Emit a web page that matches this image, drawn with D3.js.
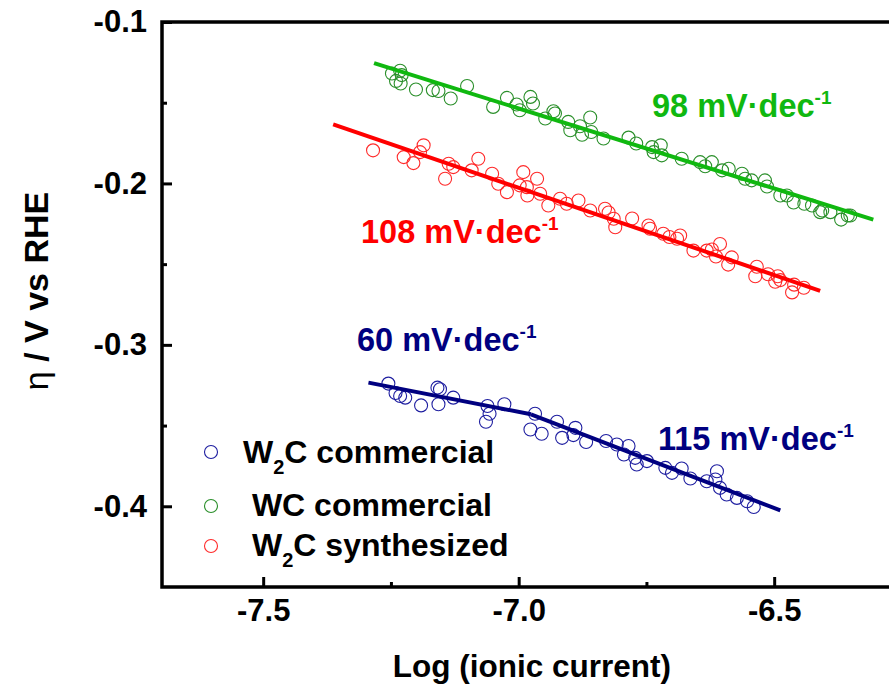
<!DOCTYPE html>
<html>
<head>
<meta charset="utf-8">
<script src="https://cdn.jsdelivr.net/npm/d3@7"></script>
<style>
  body { margin: 0; background: #fff; }
  text { font-family: "Liberation Sans", Arial, sans-serif; font-weight: bold; }
</style>
</head>
<body>
<div id="chart"></div>
<script>
// measured points, x = log(ionic current), y = overpotential (V vs RHE)
const wcX = [-7.248, -7.240, -7.232, -7.231, -7.229, -7.201, -7.168, -7.157, -7.133, -7.101,
  -7.050, -7.023, -7.004, -6.998, -6.977, -6.972, -6.948, -6.932, -6.929, -6.903,
  -6.899, -6.880, -6.876, -6.860, -6.858, -6.834, -6.785, -6.770, -6.739, -6.736,
  -6.722, -6.720, -6.681, -6.645, -6.635, -6.622, -6.602, -6.589, -6.563, -6.557,
  -6.544, -6.518, -6.514, -6.488, -6.475, -6.462, -6.441, -6.426, -6.410, -6.406,
  -6.390, -6.369, -6.356, -6.351];
const wcY = [-0.1319, -0.1365, -0.1302, -0.1381, -0.1329, -0.1418, -0.1422, -0.1427, -0.1474, -0.1396,
  -0.1526, -0.1470, -0.1511, -0.1547, -0.1464, -0.1505, -0.1598, -0.1553, -0.1567, -0.1619,
  -0.1671, -0.1646, -0.1698, -0.1592, -0.1681, -0.1722, -0.1716, -0.1753, -0.1775, -0.1806,
  -0.1764, -0.1826, -0.1847, -0.1868, -0.1894, -0.1868, -0.1919, -0.1909, -0.1940, -0.1971,
  -0.1981, -0.1981, -0.2019, -0.2075, -0.2075, -0.2118, -0.2126, -0.2137, -0.2178, -0.2168,
  -0.2178, -0.2224, -0.2199, -0.2199];

const synX = [-7.285, -7.225, -7.206, -7.193, -7.186, -7.144, -7.137, -7.128, -7.092, -7.079,
  -7.052, -7.040, -7.023, -6.998, -6.991, -6.984, -6.983, -6.964, -6.958, -6.942,
  -6.919, -6.906, -6.883, -6.860, -6.831, -6.824, -6.814, -6.811, -6.778, -6.746,
  -6.743, -6.717, -6.705, -6.690, -6.684, -6.658, -6.632, -6.622, -6.614, -6.606,
  -6.590, -6.583, -6.534, -6.537, -6.512, -6.498, -6.493, -6.488, -6.465, -6.461, -6.442];
const synY = [-0.1795, -0.1837, -0.1874, -0.1806, -0.1764, -0.1971, -0.1878, -0.1899, -0.1919, -0.1847,
  -0.1940, -0.2002, -0.2054, -0.2012, -0.1930, -0.2023, -0.2075, -0.1971, -0.2064, -0.2137,
  -0.2095, -0.2126, -0.2106, -0.2168, -0.2157, -0.2180, -0.2219, -0.2271, -0.2217, -0.2261,
  -0.2281, -0.2312, -0.2332, -0.2343, -0.2323, -0.2416, -0.2416, -0.2409, -0.2453, -0.2375,
  -0.2503, -0.2458, -0.2516, -0.2575, -0.2563, -0.2609, -0.2575, -0.2599, -0.2675, -0.2627, -0.2646];

const w2cX = [-7.255, -7.241, -7.232, -7.222, -7.191, -7.159, -7.154, -7.157, -7.128, -7.061,
  -7.057, -7.064, -7.028, -6.968, -6.977, -6.955, -6.925, -6.915, -6.889, -6.893,
  -6.868, -6.829, -6.808, -6.785, -6.794, -6.772, -6.769, -6.749, -6.713, -6.700,
  -6.681, -6.664, -6.632, -6.612, -6.615, -6.606, -6.593, -6.573, -6.553, -6.540];
const w2cY = [-0.3240, -0.3298, -0.3317, -0.3327, -0.3375, -0.3265, -0.3275, -0.3368, -0.3327, -0.3379,
  -0.3427, -0.3476, -0.3368, -0.3427, -0.3524, -0.3551, -0.3476, -0.3576, -0.3514, -0.3559,
  -0.3602, -0.3596, -0.3617, -0.3627, -0.3679, -0.3700, -0.3741, -0.3720, -0.3762, -0.3793,
  -0.3766, -0.3828, -0.3845, -0.3783, -0.3834, -0.3886, -0.3927, -0.3948, -0.3969, -0.4004];

// Tafel fit lines (end points)
const wcFit = [[-7.283, -0.1255], [-6.306, -0.2224]];
const synFit = [[-7.363, -0.1634], [-6.410, -0.2665]];
const w2cFitLow = [[-7.294, -0.3234], [-6.976, -0.3430]];
const w2cFitHigh = [[-6.976, -0.3430], [-6.488, -0.4025]];

const xMajor = [-7.5, -7.0, -6.5];
const xMinor = [-7.25, -6.75];
const yMajor = [-0.1, -0.2, -0.3, -0.4];
const yMinor = [-0.15, -0.25, -0.35];

const W = 889, H = 685;
const x = d3.scaleLinear().domain([-7.698, -6.25]).range([162, 162 + 1.448 * 511]);
const y = d3.scaleLinear().domain([-0.45, -0.1]).range([587, 22]);

const svg = d3.select("#chart").append("svg")
  .attr("width", W).attr("height", H);

const navy = "#000080", navyPt = "#1e1ea0";
const red = "#ff0000", redPt = "#ff2a2a";
const green = "#10b810", greenPt = "#2a8f2a";

// axes
svg.append("g").attr("transform", `translate(0,${y(-0.45)})`)
  .call(d3.axisBottom(x).tickValues(xMajor).tickSize(-10).tickPadding(12)
    .tickFormat(d => d.toFixed(1)));
svg.append("g").attr("transform", `translate(0,${y(-0.45)})`)
  .call(d3.axisBottom(x).tickValues(xMinor).tickSize(-5).tickFormat(""));
svg.append("g").attr("transform", `translate(${x(-7.698)},0)`)
  .call(d3.axisLeft(y).tickValues(yMajor).tickSize(-10).tickPadding(15)
    .tickFormat(d => d.toFixed(1)));
svg.append("g").attr("transform", `translate(${x(-7.698)},0)`)
  .call(d3.axisLeft(y).tickValues(yMinor).tickSize(-5).tickFormat(""));

svg.selectAll(".domain").remove();
svg.selectAll(".tick line").attr("stroke", "#000").attr("stroke-width", 3);
svg.selectAll(".tick text").attr("fill", "#000").style("font-size", "31px")
  .style("font-family", "'Liberation Sans', Arial, sans-serif").style("font-weight", "bold");

// frame
svg.append("rect")
  .attr("x", x(-7.698)).attr("y", y(-0.1))
  .attr("width", x(-6.25) - x(-7.698)).attr("height", y(-0.45) - y(-0.1))
  .attr("fill", "none").attr("stroke", "#000").attr("stroke-width", 3.5);

// axis titles
svg.append("text")
  .attr("x", x(-6.974)).attr("y", 677)
  .attr("text-anchor", "middle").style("font-size", "31.5px")
  .text("Log (ionic current)");

const yt = svg.append("text")
  .attr("transform", `translate(48,291) rotate(-90)`)
  .attr("text-anchor", "middle").style("font-size", "34px");
yt.append("tspan").style("font-weight", "normal").text("η");
yt.append("tspan").text(" / V vs RHE");

// fit lines
const line = d3.line().x(d => x(d[0])).y(d => y(d[1]));
function fit(pts, c) {
  svg.append("path").datum(pts).attr("d", line)
    .attr("fill", "none").attr("stroke", c).attr("stroke-width", 4);
}

// scatter
function scatter(xs, ys, c) {
  svg.append("g").selectAll("circle").data(xs).join("circle")
    .attr("cx", d => x(d)).attr("cy", (d, i) => y(ys[i]))
    .attr("r", 6.5).attr("fill", "none").attr("stroke", c).attr("stroke-width", 1.1);
}

scatter(wcX, wcY, greenPt);
scatter(synX, synY, redPt);
scatter(w2cX, w2cY, navyPt);
fit(wcFit, green);
fit(synFit, red);
fit(w2cFitLow, navy);
fit(w2cFitHigh, navy);

// slope labels
function slope(txt, px, py, c) {
  const t = svg.append("text").attr("x", px).attr("y", py)
    .attr("fill", c).style("font-size", "32.5px");
  t.append("tspan").text(txt + " mV\u00B7dec");
  t.append("tspan").attr("dy", -13).style("font-size", "19px").text("-1");
}
slope("98", 652, 117, green);
slope("108", 361, 243, red);
slope("60", 357, 351, navy);
slope("115", 658, 450, navy);

// legend
const legend = [
  { lab: "W", sub: "2", rest: "C commercial", c: navyPt, cy: 452, tx: 243, by: 463 },
  { lab: " WC commercial", sub: null, rest: "", c: greenPt, cy: 506, tx: 243, by: 516 },
  { lab: "W", sub: "2", rest: "C synthesized", c: redPt, cy: 546, tx: 252, by: 556 }
];
legend.forEach(l => {
  svg.append("circle").attr("cx", 211).attr("cy", l.cy).attr("r", 6.5)
    .attr("fill", "none").attr("stroke", l.c).attr("stroke-width", 1.1);
  const t = svg.append("text").attr("x", l.tx).attr("y", l.by)
    .attr("xml:space", "preserve").style("white-space", "pre").style("font-size", "32px");
  t.append("tspan").text(l.lab);
  if (l.sub) {
    t.append("tspan").attr("dy", 11).style("font-size", "20px").text(l.sub);
    t.append("tspan").attr("dy", -11).text(l.rest);
  }
});
</script>
</body>
</html>
